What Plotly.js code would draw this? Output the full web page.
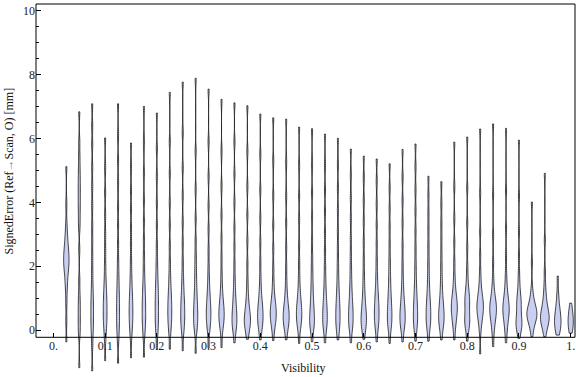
<!DOCTYPE html>
<html><head><meta charset="utf-8">
<script src="https://cdn.plot.ly/plotly-3.0.1.min.js"></script>
<style>html,body{margin:0;padding:0;background:#fff}#chart{width:576px;height:377px}</style>
</head><body><div id="chart"></div>
<script>
// Visibility bin centres
const visibility = [0.025,0.05,0.075,0.1,0.125,0.15,0.175,0.2,0.225,0.25,0.275,0.3,0.325,0.35,0.375,0.4,0.425,0.45,0.475,0.5,0.525,0.55,0.575,0.6,0.625,0.65,0.675,0.7,0.725,0.75,0.775,0.8,0.825,0.85,0.875,0.9,0.925,0.95,0.975,1.0];

// Representative signed-error values [mm] per visibility bin (estimated from the chart)
const e025 = [-0.37,0.3,0.85,1.25,1.5,1.7,1.85,1.96,2.06,2.15,2.24,2.33,2.43,2.54,2.67,2.83,3.03,3.35,3.95,5.12];
const e050 = [-1.18,-0.15,0.1,0.35,0.6,0.85,1.15,1.6,2.5,3.2,3.5,3.8,4.05,4.3,4.55,4.8,5.1,5.45,5.9,6.84];
const e075 = [-1.28,-0.5,-0.1,0.12,0.32,0.52,0.72,0.92,1.15,1.45,1.85,2.3,2.8,3.3,3.9,4.5,5.1,5.8,6.4,7.09];
const e100 = [-0.96,-0.3,0.0,0.17,0.32,0.46,0.6,0.74,0.88,1.03,1.2,1.4,1.68,2.05,2.5,3.0,3.6,4.3,5.1,6.02];
const e125 = [-1.04,-0.35,-0.05,0.15,0.33,0.51,0.69,0.87,1.06,1.27,1.52,1.82,2.2,2.7,3.3,3.9,4.6,5.3,6.1,7.09];
const e150 = [-0.87,-0.25,0.02,0.19,0.34,0.48,0.62,0.76,0.91,1.07,1.26,1.5,1.8,2.2,2.7,3.2,3.8,4.4,5.1,5.86];
const e175 = [-0.85,-0.25,0.02,0.19,0.34,0.49,0.64,0.79,0.95,1.12,1.32,1.56,1.9,2.3,2.8,3.4,4.1,4.9,5.9,7.01];
const e200 = [-0.61,-0.15,0.07,0.24,0.4,0.56,0.72,0.88,1.04,1.21,1.4,1.62,1.9,2.25,2.7,3.3,4.0,4.8,5.7,6.8];
const e225 = [-0.6,-0.12,0.1,0.25,0.39,0.52,0.65,0.78,0.92,1.07,1.25,1.47,1.76,2.15,2.65,3.3,4.0,4.9,5.9,7.45];
const e250 = [-0.65,-0.12,0.08,0.22,0.35,0.48,0.61,0.74,0.88,1.04,1.23,1.47,1.78,2.2,2.75,3.4,4.2,5.1,6.2,7.77];
const e275 = [-0.73,-0.1,0.09,0.22,0.34,0.46,0.58,0.71,0.85,1.01,1.2,1.43,1.7,2.0,2.35,2.8,3.5,4.4,5.6,7.89];
const e300 = [-0.57,-0.08,0.12,0.25,0.36,0.47,0.58,0.69,0.81,0.95,1.11,1.32,1.6,1.98,2.5,3.15,3.9,4.8,5.9,7.55];
const e325 = [-0.55,-0.06,0.12,0.24,0.34,0.43,0.52,0.61,0.71,0.82,0.96,1.14,1.4,1.76,2.25,2.85,3.6,4.5,5.6,7.23];
const e350 = [-0.4,-0.05,0.08,0.18,0.28,0.38,0.49,0.6,0.73,0.88,1.06,1.3,1.62,2.05,2.6,3.2,4.0,4.9,5.9,7.12];
const e375 = [-0.29,-0.04,0.07,0.15,0.23,0.3,0.37,0.45,0.54,0.65,0.79,0.97,1.23,1.6,2.1,2.8,3.6,4.5,5.6,7.03];
const e400 = [-0.31,-0.02,0.12,0.22,0.31,0.4,0.49,0.58,0.68,0.79,0.92,1.09,1.33,1.68,2.15,2.75,3.5,4.4,5.5,6.77];
const e425 = [-0.33,0.02,0.16,0.27,0.36,0.44,0.52,0.6,0.68,0.77,0.88,1.02,1.23,1.53,1.95,2.55,3.3,4.2,5.3,6.65];
const e450 = [-0.31,-0.01,0.12,0.21,0.29,0.37,0.45,0.53,0.62,0.72,0.84,1.0,1.22,1.55,2.0,2.6,3.35,4.2,5.25,6.61];
const e475 = [-0.42,0.0,0.15,0.26,0.36,0.45,0.54,0.63,0.73,0.84,0.97,1.14,1.38,1.72,2.15,2.72,3.45,4.2,5.15,6.36];
const e500 = [-0.37,-0.03,0.1,0.2,0.3,0.4,0.51,0.63,0.77,0.93,1.12,1.35,1.62,1.94,2.32,2.82,3.5,4.3,5.2,6.31];
const e525 = [-0.4,-0.03,0.11,0.22,0.33,0.44,0.55,0.67,0.8,0.95,1.13,1.36,1.65,2.02,2.48,3.02,3.7,4.4,5.2,6.14];
const e550 = [-0.31,-0.02,0.12,0.24,0.36,0.48,0.6,0.73,0.87,1.03,1.22,1.46,1.76,2.13,2.58,3.12,3.75,4.45,5.2,6.01];
const e575 = [-0.4,-0.03,0.11,0.22,0.33,0.44,0.55,0.67,0.8,0.95,1.13,1.35,1.63,1.97,2.38,2.88,3.5,4.15,4.85,5.67];
const e600 = [-0.29,-0.03,0.09,0.18,0.27,0.36,0.45,0.55,0.66,0.79,0.95,1.15,1.42,1.76,2.2,2.75,3.4,4.05,4.75,5.45];
const e625 = [-0.37,0.0,0.15,0.27,0.38,0.49,0.6,0.71,0.83,0.96,1.11,1.29,1.53,1.84,2.23,2.72,3.3,3.95,4.65,5.36];
const e650 = [-0.42,-0.02,0.13,0.25,0.36,0.47,0.58,0.7,0.83,0.98,1.15,1.36,1.61,1.91,2.26,2.7,3.22,3.8,4.45,5.21];
const e675 = [-0.37,-0.02,0.11,0.21,0.31,0.4,0.49,0.59,0.7,0.82,0.96,1.14,1.38,1.7,2.13,2.67,3.35,4.05,4.8,5.66];
const e700 = [-0.35,-0.01,0.14,0.26,0.38,0.5,0.62,0.75,0.89,1.05,1.24,1.48,1.78,2.15,2.6,3.13,3.75,4.4,5.1,5.83];
const e725 = [-0.35,0.0,0.14,0.25,0.36,0.47,0.58,0.69,0.81,0.95,1.11,1.31,1.57,1.89,2.26,2.68,3.15,3.65,4.2,4.82];
const e750 = [-0.31,0.0,0.13,0.23,0.32,0.41,0.5,0.59,0.69,0.81,0.95,1.12,1.35,1.64,1.99,2.4,2.9,3.4,3.98,4.65];
const e775 = [-0.31,0.05,0.22,0.35,0.46,0.55,0.63,0.71,0.79,0.87,0.96,1.07,1.21,1.42,1.72,2.15,2.75,3.5,4.5,5.89];
const e800 = [-0.35,0.01,0.13,0.22,0.3,0.39,0.5,0.64,0.77,0.87,0.96,1.06,1.18,1.35,1.62,2.0,2.6,3.35,4.45,6.05];
const e825 = [-0.75,-0.05,0.2,0.34,0.45,0.54,0.62,0.69,0.76,0.83,0.91,1.0,1.11,1.26,1.48,1.82,2.35,3.1,4.3,6.3];
const e850 = [-0.52,-0.12,0.1,0.25,0.36,0.45,0.53,0.6,0.67,0.74,0.81,0.89,0.99,1.12,1.3,1.62,2.15,2.95,4.25,6.46];
const e875 = [-0.4,-0.06,0.14,0.28,0.39,0.48,0.56,0.63,0.7,0.78,0.86,0.96,1.08,1.24,1.46,1.8,2.35,3.15,4.4,6.32];
const e900 = [-0.26,-0.02,0.06,0.13,0.2,0.27,0.35,0.46,0.6,0.72,0.82,0.92,1.04,1.2,1.45,1.8,2.35,3.1,4.2,5.95];
const e925 = [-0.21,0.04,0.16,0.25,0.32,0.37,0.415,0.455,0.495,0.535,0.575,0.62,0.67,0.73,0.81,0.91,1.05,1.3,2.1,4.01];
const e950 = [-0.21,0.02,0.12,0.19,0.25,0.3,0.35,0.4,0.45,0.5,0.56,0.63,0.72,0.83,0.97,1.15,1.42,1.85,2.8,4.91];
const e975 = [-0.16,-0.03,0.06,0.14,0.21,0.28,0.35,0.43,0.52,0.62,0.75,0.92,1.2,1.69];
const e1000 = [-0.1,0.03,0.13,0.22,0.31,0.4,0.5,0.62,0.84];

// Axis ticks
const xTickVals = [0,0.1,0.2,0.3,0.4,0.5,0.6,0.7,0.8,0.9,1.0];
const xTickText = ['0.','0.1','0.2','0.3','0.4','0.5','0.6','0.7','0.8','0.9','1.'];
const yTickVals = [0,2,4,6,8,10];
const yTickText = ['0','2','4','6','8','10'];
const yMinorVals = [0.5,1,1.5,2.5,3,3.5,4.5,5,5.5,6.5,7,7.5,8.5,9,9.5];

const samples = [e025,e050,e075,e100,e125,e150,e175,e200,e225,e250,e275,e300,e325,e350,e375,e400,e425,e450,e475,e500,e525,e550,e575,e600,e625,e650,e675,e700,e725,e750,e775,e800,e825,e850,e875,e900,e925,e950,e975,e1000];

const FONT = 'Liberation Serif, Times New Roman, serif';
const fill = '#c9cff3';
const edge = 'rgba(35,35,35,0.85)';

const traces = visibility.map((v, i) => ({
  type: 'violin',
  x0: v,
  y: samples[i],
  name: String(v),
  orientation: 'v',
  side: 'both',
  spanmode: 'hard',
  bandwidth: 0.2,
  scalegroup: 'all',
  scalemode: 'count',
  points: false,
  box: {visible: false},
  meanline: {visible: false},
  fillcolor: fill,
  line: {color: edge, width: 1},
  showlegend: false,
  hoverinfo: 'skip'
}));

// frame geometry
const yLo = -1.348, yHi = 10.219;
const frameBottom = -0.229;
const axisPos = (frameBottom - yLo) / (yHi - yLo);
const xRange = [-0.03364, 1.00832];

const tickFont = {family: FONT, size: 12, color: '#222'};

const layout = {
  width: 576, height: 377,
  margin: {l: 36, r: 1, t: 4, b: 4},
  paper_bgcolor: '#fff', plot_bgcolor: '#fff',
  font: {family: FONT, size: 12, color: '#222'},
  violinmode: 'overlay',
  violingap: 0.1,
  violingroupgap: 0,
  showlegend: false,
  xaxis: {
    type: 'linear', range: xRange, anchor: 'free', position: axisPos,
    showgrid: false, zeroline: false, showline: false,
    tickmode: 'array', tickvals: xTickVals, ticktext: xTickText,
    ticks: 'inside', ticklen: 4, tickwidth: 1, tickcolor: '#000',
    tickfont: tickFont
  },
  xaxis2: {
    type: 'linear', range: xRange, overlaying: 'x', side: 'top', anchor: 'y',
    showgrid: false, zeroline: false, showline: false, showticklabels: false,
    tickmode: 'array', tickvals: xTickVals,
    ticks: 'inside', ticklen: 4, tickwidth: 1, tickcolor: '#000'
  },
  yaxis: {
    range: [yLo, yHi], showgrid: false, zeroline: false, showline: false,
    tickmode: 'array', tickvals: yTickVals, ticktext: yTickText,
    ticks: 'inside', ticklen: 5, tickwidth: 1, tickcolor: '#000',
    tickfont: tickFont,
    minor: {tickmode: 'array', tickvals: yMinorVals, ticks: 'inside', ticklen: 3, tickwidth: 1, tickcolor: '#000', showgrid: false}
  },
  yaxis2: {
    range: [yLo, yHi], overlaying: 'y', side: 'right', anchor: 'x',
    showgrid: false, zeroline: false, showline: false, showticklabels: false,
    tickmode: 'array', tickvals: yTickVals,
    ticks: 'inside', ticklen: 5, tickwidth: 1, tickcolor: '#000',
    minor: {tickmode: 'array', tickvals: yMinorVals, ticks: 'inside', ticklen: 3, tickwidth: 1, tickcolor: '#000', showgrid: false}
  },
  shapes: [{
    type: 'rect', xref: 'paper', yref: 'paper', x0: 0, x1: 1, y0: axisPos, y1: 1,
    line: {color: '#000', width: 1}, fillcolor: 'rgba(0,0,0,0)', layer: 'above'
  }],
  annotations: [
    {xref: 'paper', yref: 'paper', x: 0.4972, y: 0.0136, xanchor: 'center', yanchor: 'middle',
     text: 'Visibility', showarrow: false, font: {family: FONT, size: 12, color: '#111'}},
    {xref: 'paper', yref: 'paper', x: -0.0501, y: 0.5488, xanchor: 'center', yanchor: 'middle',
     textangle: -90, showarrow: false, font: {family: FONT, size: 12, color: '#111'},
     text: 'SignedError (Ref<span style="color:#3f7fdc">→</span>Scan, O) [mm]'}
  ]
};

Plotly.newPlot('chart', traces, layout, {staticPlot: true, displayModeBar: false});
</script>
</body></html>
